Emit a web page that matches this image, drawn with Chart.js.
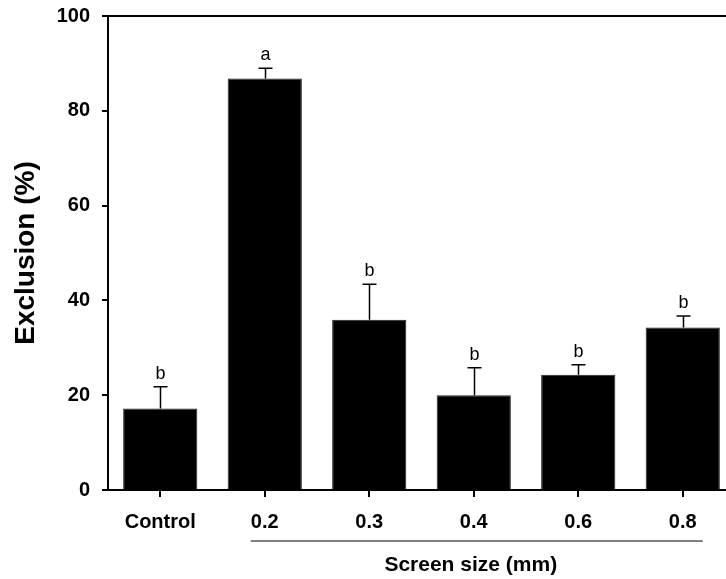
<!DOCTYPE html>
<html>
<head>
<meta charset="utf-8">
<script src="https://cdn.jsdelivr.net/npm/chart.js@4"></script>
<style>
html, body { margin: 0; padding: 0; background: #fff; overflow: hidden; }
</style>
</head>
<body>
<canvas id="CHART1" width="740" height="579"></canvas>
<script>
// DATA
const categories = ["Control", "0.2", "0.3", "0.4", "0.6", "0.8"];
const exclusion = [17.2, 86.8, 35.9, 20.0, 24.3, 34.3]; // mean (%)
const errorUp = [4.6, 2.2, 7.5, 5.8, 2.1, 2.4]; // upper error
const letters = ["b", "a", "b", "b", "b", "b"];
const yTicks = [0, 20, 40, 60, 80, 100];
const groupLabel = "Screen size (mm)";

const FONT = '"Liberation Sans", Arial, sans-serif';

// error bars, letters, top frame and group line
const extras = {
    id: 'extras',
    afterDatasetsDraw(chart) {
        const ctx = chart.ctx;
        const x = chart.scales.x;
        const y = chart.scales.y;
        const a = chart.chartArea;
        ctx.save();
        ctx.strokeStyle = '#000';
        ctx.fillStyle = '#000';
        ctx.lineWidth = 1.5;
        ctx.font = '18px ' + FONT;
        ctx.textAlign = 'center';
        ctx.textBaseline = 'bottom';
        exclusion.forEach((v, i) => {
            const px = Math.round(x.getPixelForValue(i)) + 0.5;
            const base = y.getPixelForValue(v);
            const top = y.getPixelForValue(v + errorUp[i]);
            ctx.beginPath();
            ctx.moveTo(px, base);
            ctx.lineTo(px, top);
            ctx.moveTo(px - 7, top);
            ctx.lineTo(px + 7, top);
            ctx.stroke();
            ctx.fillText(letters[i], px, top - 4);
        });

        // top frame line
        ctx.lineWidth = 2;
        ctx.beginPath();
        ctx.moveTo(a.left - 1, a.top);
        ctx.lineTo(a.right, a.top);
        ctx.stroke();

        // line under the screen sizes
        const x1 = x.getPixelForValue(1) - 14;
        const x2 = x.getPixelForValue(5) + 20;
        ctx.strokeStyle = '#808080';
        ctx.beginPath();
        ctx.moveTo(x1, a.bottom + 51);
        ctx.lineTo(x2, a.bottom + 51);
        ctx.stroke();

        ctx.font = 'bold 21px ' + FONT;
        ctx.textBaseline = 'middle';
        ctx.fillText(groupLabel, (x1 + x2) / 2 - 6, a.bottom + 75);
        ctx.restore();
    }
};

const chart1 = new Chart(document.getElementById("CHART1"), {
    type: "bar",
    data: {
        labels: categories,
        datasets: [{
            data: exclusion,
            backgroundColor: "#000",
            borderColor: "#222",
            borderWidth: 1,
            barPercentage: 0.71,
            categoryPercentage: 1.0,
        }, ],
    },
    options: {
        responsive: false,
        animation: false,
        devicePixelRatio: 1,
        layout: { padding: { top: 16, right: 5, left: 0, bottom: 0 } },
        plugins: {
            legend: { display: false },
            tooltip: { enabled: false },
        },
        scales: {
            x: {
                afterFit: (s) => { s.height = 89; },
                grid: { offset: false, drawOnChartArea: false, drawTicks: true, tickLength: 7, color: '#000', lineWidth: 2 },
                border: { display: true, color: '#000', width: 2 },
                ticks: { color: '#000', font: { family: FONT, size: 20, weight: 'bold' }, padding: 13, maxRotation: 0 },
            },
            y: {
                min: 0,
                max: 100,
                afterFit: (s) => { s.width = 108; s.paddingTop = 0; s.paddingBottom = 0; },
                afterBuildTicks: (s) => { s.ticks = yTicks.map(v => ({ value: v })); },
                grid: { drawOnChartArea: false, drawTicks: true, tickLength: 6, color: '#000', lineWidth: 2 },
                border: { display: true, color: '#000', width: 2 },
                ticks: { color: '#000', font: { family: FONT, size: 20, weight: 'bold' }, padding: 12 },
                title: {
                    display: true,
                    text: "Exclusion (%)",
                    color: '#000',
                    font: { family: FONT, size: 28, weight: 'bold' },
                    padding: { top: 9, bottom: 0 },
                },
            },
        },
    },
    plugins: [extras],
});
</script>
</body>
</html>
